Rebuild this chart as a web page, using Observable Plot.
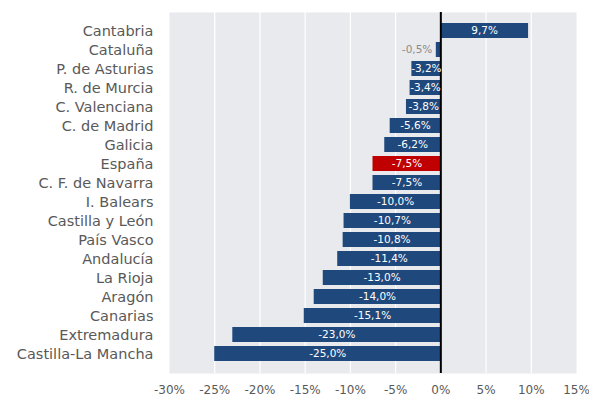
<!DOCTYPE html>
<html><head><meta charset="utf-8">
<script src="https://cdn.jsdelivr.net/npm/d3@7"></script>
<script src="https://cdn.jsdelivr.net/npm/@observablehq/plot@0.6"></script>
<style>body{margin:0;background:#fff}</style>
</head><body><div id="chart"></div>
<script>
const regions = ["Cantabria","Cataluña","P. de Asturias","R. de Murcia","C. Valenciana","C. de Madrid","Galicia","España","C. F. de Navarra","I. Balears","Castilla y León","País Vasco","Andalucía","La Rioja","Aragón","Canarias","Extremadura","Castilla-La Mancha"];
const values = [9.7,-0.5,-3.2,-3.4,-3.8,-5.6,-6.2,-7.5,-7.5,-10.0,-10.7,-10.8,-11.4,-13.0,-14.0,-15.1,-23.0,-25.0];
const xTicks = [-30,-25,-20,-15,-10,-5,0,5,10,15];
const highlight = "España";
const outsideLabel = ["Cataluña"];

const data = regions.map((r,i)=>({region:r, value:values[i]}));
const fmt = v => d3.format(".1f")(v).replace(".", ",").replace("−","-") + "%";
const inside = data.filter(d=>!outsideLabel.includes(d.region));
const outside = data.filter(d=>outsideLabel.includes(d.region));
const tickFmt = d => d3.format("d")(d).replace("−","-") + "%";

const chart = Plot.plot({
  width: 589, height: 414,
  marginLeft: 169, marginRight: 13, marginTop: 12, marginBottom: 41,
  style: {fontFamily: "DejaVu Sans, Verdana, sans-serif", color: "#595959", background: "#fff"},
  x: {domain: [-30, 15], ticks: xTicks, tickFormat: tickFmt, label: null, tickSize: 0, tickPadding: 12},
  y: {domain: regions, label: null, tickSize: 0, tickPadding: 16, padding: 0.2},
  marks: [
    Plot.frame({fill: "#e9eaed", stroke: null}),
    Plot.ruleX(xTicks.filter(t=>t!==0 && t!==-30 && t!==15), {stroke: "#fff", strokeWidth: 1.2}),
    Plot.barX(data, {y: "region", x: "value", fill: d => d.region === highlight ? "#c00000" : "#1f497d"}),
    Plot.ruleX([0], {stroke: "#000", strokeWidth: 2}),
    Plot.text(inside, {y: "region", x: d => d.value/2, text: d => fmt(d.value), fill: "#fff", fontSize: 10.5}),
    Plot.text(outside, {y: "region", x: "value", text: d => fmt(d.value), fill: "#8a8a8a", fontSize: 10.5, textAnchor: "end", dx: -4}),
    Plot.axisY({tickSize: 0, tickPadding: 16, fontSize: 14.5, label: null}),
    Plot.axisX({ticks: xTicks, tickFormat: tickFmt, tickSize: 0, tickPadding: 12, fontSize: 12, label: null})
  ]
});
document.getElementById("chart").appendChild(chart);
</script></body></html>
